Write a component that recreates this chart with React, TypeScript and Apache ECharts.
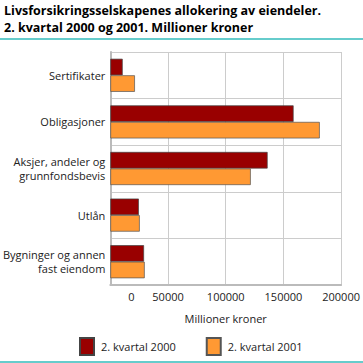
import React, { useEffect, useRef } from "react";
import * as echarts from "echarts";

const categories = [
  "Sertifikater",
  "Obligasjoner",
  "Aksjer, andeler og\ngrunnfondsbevis",
  "Utlån",
  "Bygninger og annen\nfast eiendom",
];
const series2000 = [10700, 158800, 136300, 24700, 29200];
const series2001 = [21300, 181500, 121700, 25500, 29800];
const seriesNames = ["2. kvartal 2000", "2. kvartal 2001"];
const titleLines = [
  "Livsforsikringsselskapenes allokering av eiendeler.",
  "2. kvartal 2000 og 2001. Millioner kroner",
];
const axisName = "Millioner kroner";

const FONT = "'Open Sans', sans-serif";

export default function App() {
  const ref = useRef<HTMLDivElement>(null);
  useEffect(() => {
    if (!ref.current) return;
    const chart = echarts.init(ref.current, undefined, { renderer: "svg" });
    chart.setOption({
      animation: false,
      textStyle: { fontFamily: FONT },
      graphic: [
        {
          type: "text",
          left: 4,
          top: 2,
          style: {
            text: titleLines.join("\n"),
            font: `bold 12.5px ${FONT}`,
            lineHeight: 17,
            fill: "#000",
          },
        },
        {
          type: "rect",
          shape: { x: 0, y: 38, width: 363, height: 2 },
          style: { fill: "#66cccc" },
        },
        {
          type: "rect",
          shape: { x: 0, y: 361, width: 363, height: 2 },
          style: { fill: "#66cccc" },
        },
      ],
      legend: {
        top: 337,
        left: 79,
        padding: 0,
        icon: "rect",
        itemWidth: 14,
        itemHeight: 17,
        itemGap: 30,
        textStyle: { fontSize: 11, color: "#222", fontFamily: FONT, padding: [0, 0, 0, 2] },
        data: seriesNames,
      },
      grid: { left: 109, top: 52, width: 237, height: 233, containLabel: false },
      xAxis: {
        type: "value",
        min: 0,
        max: 200000,
        interval: 50000,
        name: axisName,
        nameLocation: "middle",
        nameGap: 28,
        nameTextStyle: { fontSize: 11, color: "#222" },
        axisLine: { show: true, lineStyle: { color: "#bbb", width: 2 } },
        axisTick: { show: false },
        splitLine: { lineStyle: { color: "#ccc", width: 1 } },
        axisLabel: {
          fontSize: 11,
          color: "#222",
          margin: 6,
          formatter: (v: number) => (v === 0 ? "{z|0}" : String(v)),
          rich: { z: { padding: [0, 0, 0, 42], fontSize: 11, color: "#222" } },
        },
      },
      yAxis: {
        type: "category",
        inverse: true,
        data: categories,
        axisLine: { show: true, lineStyle: { color: "#bbb", width: 2 } },
        axisTick: { show: false },
        splitLine: { show: true, lineStyle: { color: "#ccc", width: 1 } },
        axisLabel: { fontSize: 11, color: "#222", margin: 5, lineHeight: 14 },
      },
      series: [
        {
          name: seriesNames[0],
          type: "bar",
          data: series2000,
          barGap: "0%",
          barCategoryGap: "29%",
          itemStyle: { color: "#990000", borderColor: "#444", borderWidth: 0.7 },
        },
        {
          name: seriesNames[1],
          type: "bar",
          data: series2001,
          barGap: "0%",
          barCategoryGap: "29%",
          itemStyle: { color: "#ff9933", borderColor: "#555", borderWidth: 0.7 },
        },
      ],
    });
    return () => chart.dispose();
  }, []);
  return (
    <div
      ref={ref}
      style={{ position: "fixed", left: 0, top: 0, width: 363, height: 363, background: "#fff" }}
    />
  );
}
